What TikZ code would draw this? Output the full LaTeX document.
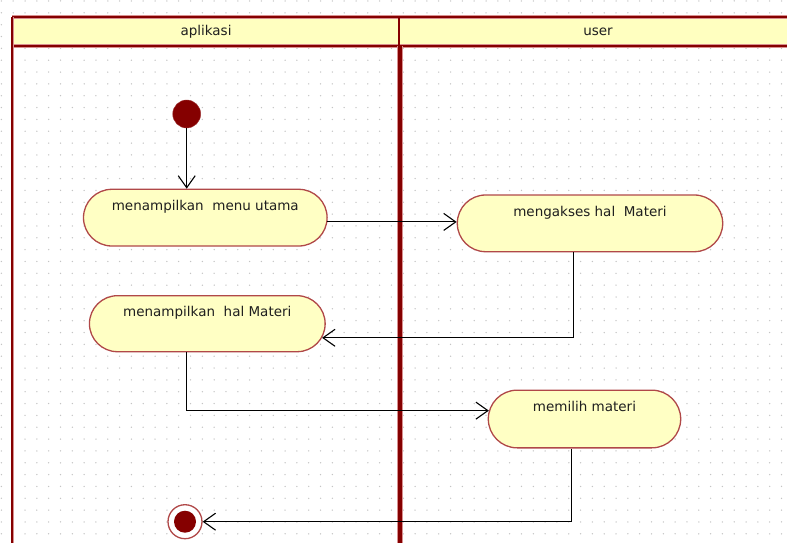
\documentclass[tikz,border=0pt]{standalone}
\usepackage{fontspec}
\setmainfont{DejaVu Sans}
\usetikzlibrary{shapes.misc,arrows.meta}
\definecolor{lanered}{HTML}{850000}
\definecolor{lanehalo}{HTML}{D89090}
\definecolor{actfill}{HTML}{FFFFC4}
\definecolor{actedge}{HTML}{B04848}
\definecolor{headfill}{HTML}{FFFFC0}
\definecolor{dotgrey}{HTML}{C4C4C4}
\tikzset{
  txt/.style={font=\fontsize{13.5}{15}\selectfont, text=black!88},
  activity/.style={rounded rectangle, draw=actedge, line width=1.3pt, fill=actfill,
    txt, inner xsep=0pt, inner ysep=0pt, text height=21pt},
  startnode/.style={circle, fill=lanered, draw=lanered!80, minimum size=28pt, inner sep=0pt},
  endring/.style={circle, draw=actedge, line width=1.3pt, fill=white, minimum size=34pt, inner sep=0pt},
  enddot/.style={circle, fill=lanered, minimum size=22pt, inner sep=0pt},
  flow/.style={draw=black, line width=1.1pt, -{Straight Barb[length=12pt,width=17pt,line width=1.1pt]}},
  lanehead/.style={fill=headfill},
}
\begin{document}
\begin{tikzpicture}[x=1pt,y=-1pt]
\useasboundingbox (0,0) rectangle (787,543);
% dotted background grid
\foreach \i in {0,...,66}{
  \foreach \j in {0,...,46}{
    \fill[dotgrey] (1.4+11.82*\i,1+11.84*\j) circle (0.75pt);
  }
}
% swimlane headers
\fill[lanehead] (12,17) rectangle (800,46);
\draw[lanehalo, line width=3.5pt] (12,17) -- (800,17) (12,46) -- (800,46);
\draw[lanered, line width=1.8pt] (12,17) -- (800,17) (12,46) -- (800,46);
\node[txt] (hA) at (206,32) {aplikasi};
\node[txt] (hB) at (598,32) {user};
% lane borders
\draw[lanehalo, line width=3pt] (12,17) -- (12,543);
\draw[lanered, line width=1.4pt] (12,17) -- (12,543);
\draw[lanehalo, line width=2.5pt] (399,17) -- (399,46);
\draw[lanered, line width=1.2pt] (399,17) -- (399,46);
\draw[lanehalo, line width=5.5pt] (400,46) -- (400,543);
\draw[lanered, line width=4pt] (400,46) -- (400,543);

% activities
\node[activity, minimum width=242.6pt, text depth=35.7pt] (mmu) at (205.3,217.65) {menampilkan\ \ menu utama};
\node[activity, minimum width=265.4pt, text depth=35.7pt] (mhm) at (590,223.35) {mengakses hal\ \ Materi};
\node[activity, minimum width=235.7pt, text depth=35pt] (mhal) at (207.3,323.7) {menampilkan\ \ hal Materi};
\node[activity, minimum width=192.4pt, text depth=36.7pt] (mm) at (584.5,419) {memilih materi};

% start and end
\node[startnode] (init) at (186.7,114) {};
\node[endring] (fin) at (185,521.7) {};
\node[enddot] (findot) at (fin.center) {};

% control flow
\draw[flow] (init.south) -- (init |- mmu.north);
\draw[flow] (mmu.-2.4) -- (mmu.-2.4 -| mhm.west);
\draw[flow] ([xshift=-16.7pt]mhm.south) |- (mhal.-7.8);
\draw[flow] ([xshift=-20.6pt]mhal.south) |- (mm.175.8);
\draw[flow] ([xshift=-12.8pt]mm.south) |- (fin.east);
\end{tikzpicture}
\end{document}
